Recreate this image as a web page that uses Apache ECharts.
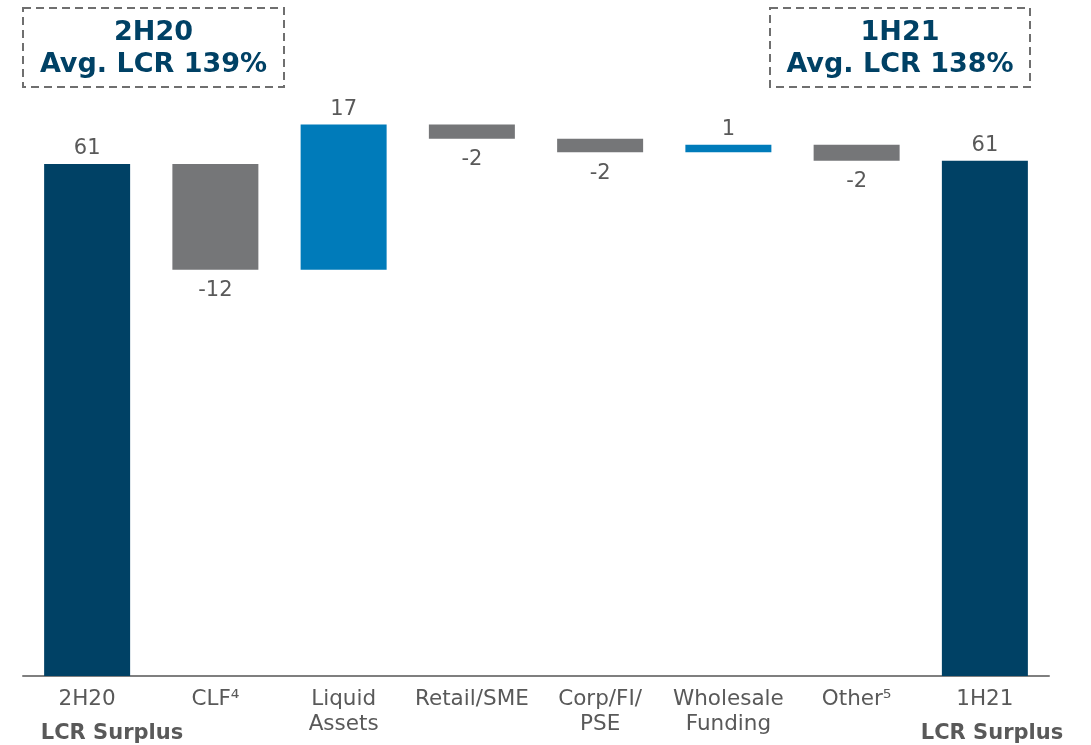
<!DOCTYPE html>
<html>
<head>
<meta charset="utf-8">
<script src="https://cdn.jsdelivr.net/npm/echarts@6/dist/echarts.min.js"></script>
<style>
html,body{margin:0;padding:0;background:#fff;}
#c{width:1091px;height:745px;}
</style>
</head>
<body>
<div id="c"></div>
<script>
const categories = ['2H20', 'CLF\u2074', 'Liquid\nAssets', 'Retail/SME', 'Corp/FI/\nPSE', 'Wholesale\nFunding', 'Other\u2075', '1H21'];
const changes = [61.0, -12.6, 17.3, -1.7, -1.6, 0.9, -1.9, 61.4];
const isTotal = [true, false, false, false, false, false, false, true];
const valueLabels = ['61', '-12', '17', '-2', '-2', '1', '-2', '61'];

const NAVY = '#004165', BLUE = '#007BBA', GRAY = '#757678';
const FONT = '"DejaVu Sans", Verdana, sans-serif';

// build stacked waterfall
const baseData = [], barData = [];
let running = 0;
changes.forEach((d, i) => {
  let base, h;
  if (isTotal[i]) { base = 0; h = d; running = d; }
  else { base = d >= 0 ? running : running + d; h = Math.abs(d); running += d; }
  baseData.push(base);
  const color = isTotal[i] ? NAVY : (d >= 0 ? BLUE : GRAY);
  barData.push({
    value: h,
    itemStyle: { color },
    label: {
      show: true,
      position: d >= 0 ? 'top' : 'bottom',
      distance: d >= 0 ? 5 : 10.5,
      formatter: valueLabels[i]
    }
  });
});

const chart = echarts.init(document.getElementById('c'));
chart.setOption({
  animation: false,
  grid: { left: 23, right: 42, top: 88.5, bottom: 69, containLabel: false },
  xAxis: {
    type: 'category',
    data: categories,
    axisLine: { lineStyle: { color: '#7F7F7F', width: 2 } },
    axisTick: { show: false },
    axisLabel: { color: '#595959', fontSize: 21.5, fontFamily: FONT, lineHeight: 25, margin: 11, interval: 0 }
  },
  yAxis: { type: 'value', min: 0, max: 70, show: false, splitLine: { show: false } },
  series: [
    { type: 'bar', stack: 'w', data: baseData, itemStyle: { color: 'transparent' }, barWidth: 86, silent: true },
    { type: 'bar', stack: 'w', data: barData, barWidth: 86,
      label: { color: '#595959', fontSize: 21, fontFamily: FONT } }
  ],
  graphic: [
    { type: 'rect', shape: { x: 23, y: 8, width: 261, height: 79 },
      style: { fill: 'none', stroke: '#6F6F6F', lineWidth: 2, lineDash: [8, 5] } },
    { type: 'text', x: 153.5, y: 48.5,
      style: { text: '2H20\nAvg. LCR 139%', font: 'bold 27px ' + FONT, fill: NAVY, align: 'center', verticalAlign: 'middle', lineHeight: 32 } },
    { type: 'rect', shape: { x: 770, y: 8, width: 260, height: 79 },
      style: { fill: 'none', stroke: '#6F6F6F', lineWidth: 2, lineDash: [8, 5] } },
    { type: 'text', x: 900, y: 48.5,
      style: { text: '1H21\nAvg. LCR 138%', font: 'bold 27px ' + FONT, fill: NAVY, align: 'center', verticalAlign: 'middle', lineHeight: 32 } },
    { type: 'text', x: 112, y: 734,
      style: { text: 'LCR Surplus', font: 'bold 21px ' + FONT, fill: '#595959', align: 'center', verticalAlign: 'middle' } },
    { type: 'text', x: 992, y: 734,
      style: { text: 'LCR Surplus', font: 'bold 21px ' + FONT, fill: '#595959', align: 'center', verticalAlign: 'middle' } }
  ]
});
</script>
</body>
</html>
